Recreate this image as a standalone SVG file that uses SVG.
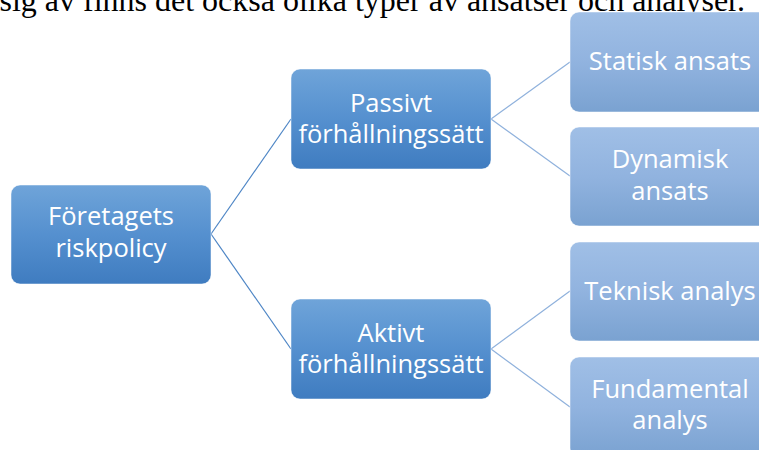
<svg xmlns="http://www.w3.org/2000/svg" width="759" height="450" viewBox="0 0 759 450">
<defs>
<linearGradient id="gDark" x1="0" y1="0" x2="0" y2="1">
<stop offset="0" stop-color="#6fa4d9"/>
<stop offset="0.5" stop-color="#5590cf"/>
<stop offset="1" stop-color="#3f7cc0"/>
</linearGradient>
<linearGradient id="gLight" x1="0" y1="0" x2="0" y2="1">
<stop offset="0" stop-color="#a0bfe6"/>
<stop offset="0.5" stop-color="#91b3df"/>
<stop offset="1" stop-color="#7aa2d1"/>
</linearGradient>
<style>
.dark{fill:url(#gDark);stroke:#ffffff;stroke-width:0.5}
.light{fill:url(#gLight);stroke:#ffffff;stroke-width:0.5}
.lbl{font-family:"Open Sans","Liberation Sans",sans-serif;font-size:25.5px;fill:#ffffff;text-anchor:middle}
.c1{stroke:#4d85c5;stroke-width:1.2;fill:none}
.c2{stroke:#8fb1dc;stroke-width:1.2;fill:none}
.top{font-family:"Liberation Serif","Times New Roman",serif;font-size:32px;fill:#000000;text-anchor:end}
</style>
</defs>
<rect width="759" height="450" fill="#ffffff"/>
<text class="top" x="745" y="11">sig av finns det också olika typer av ansatser och analyser.</text>
<g id="connectors">
<line class="c1" x1="211" y1="234" x2="291" y2="119"/>
<line class="c1" x1="211" y1="234" x2="291" y2="349"/>
<line class="c2" x1="491" y1="119" x2="570" y2="62"/>
<line class="c2" x1="491" y1="119" x2="570" y2="176"/>
<line class="c2" x1="491" y1="349" x2="570" y2="291"/>
<line class="c2" x1="491" y1="349" x2="570" y2="407"/>
</g>
<g id="root">
<rect class="dark" x="11" y="185" width="200" height="99" rx="9"/>
<text class="lbl" x="111" y="225">Företagets</text>
<text class="lbl" x="111" y="257">riskpolicy</text>
</g>
<g id="passivt">
<rect class="dark" x="291" y="69" width="200" height="100" rx="9"/>
<text class="lbl" x="391" y="112">Passivt</text>
<text class="lbl" x="391" y="143">förhållningssätt</text>
</g>
<g id="aktivt">
<rect class="dark" x="291" y="299" width="200" height="100" rx="9"/>
<text class="lbl" x="391" y="342">Aktivt</text>
<text class="lbl" x="391" y="373">förhållningssätt</text>
</g>
<g id="statisk">
<rect class="light" x="570" y="12" width="200" height="100" rx="9"/>
<text class="lbl" x="670" y="70">Statisk ansats</text>
</g>
<g id="dynamisk">
<rect class="light" x="570" y="127" width="200" height="99" rx="9"/>
<text class="lbl" x="670" y="168">Dynamisk</text>
<text class="lbl" x="670" y="200">ansats</text>
</g>
<g id="teknisk">
<rect class="light" x="570" y="242" width="200" height="99" rx="9"/>
<text class="lbl" x="670" y="300">Teknisk analys</text>
</g>
<g id="fundamental">
<rect class="light" x="570" y="357" width="200" height="100" rx="9"/>
<text class="lbl" x="670" y="398">Fundamental</text>
<text class="lbl" x="670" y="429">analys</text>
</g>
</svg>
